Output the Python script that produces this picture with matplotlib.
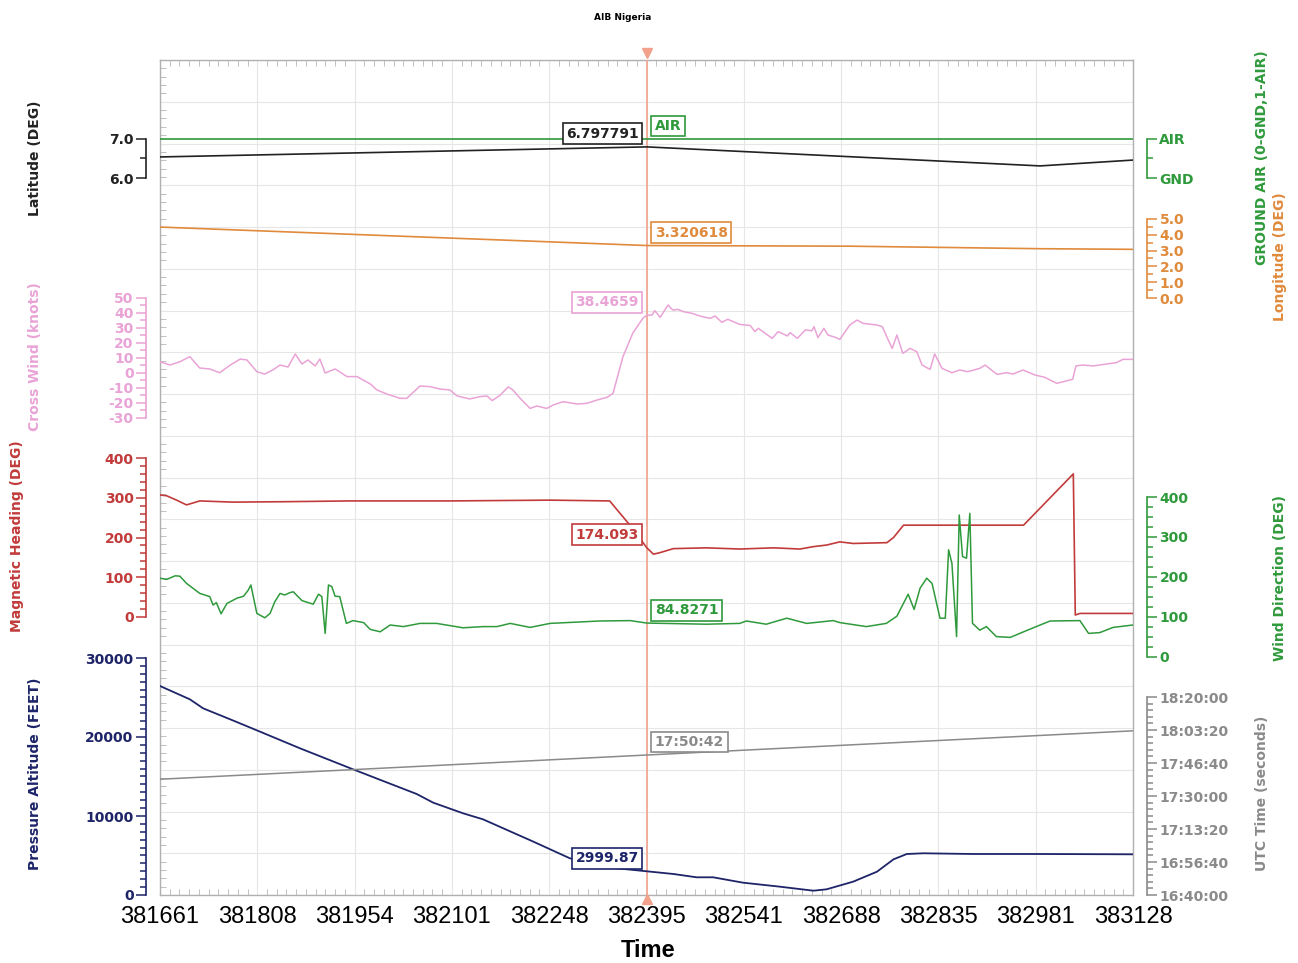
import numpy as np
import matplotlib
matplotlib.use('Agg')
import matplotlib.pyplot as plt
from matplotlib.ticker import FixedLocator, FixedFormatter, FuncFormatter, FormatStrFormatter
from matplotlib.transforms import offset_copy

plt.rcParams['font.family'] = 'DejaVu Sans'
plt.rcParams['font.weight'] = 'bold'
plt.rcParams['axes.unicode_minus'] = False

# ---------------- data ----------------
x_tick_labels = ['381661', '381808', '381954', '382101', '382248', '382395',
                 '382541', '382688', '382835', '382981', '383128']
t_start, t_end = 381661, 383128
cursor_t = 382395

ground_t = [381661, 383128]
ground_air = [1, 1]

lat_t = [381661, 382395, 382988, 383128]
lat_deg = [6.54, 6.797791, 6.31, 6.46]

lon_t = [381661, 382395, 382700, 382988, 383128]
lon_deg = [4.49, 3.320618, 3.28, 3.12, 3.08]

cw_t = [381661, 381676, 381691, 381706, 381721, 381736, 381751, 381767, 381782, 381792,
        381807, 381819, 381831, 381842, 381854, 381865, 381875, 381884, 381895, 381902,
        381910, 381925, 381943, 381958, 381978, 381988, 382003, 382023, 382033, 382053,
        382068, 382083, 382098, 382109, 382128, 382143, 382154, 382162, 382174, 382186,
        382193, 382204, 382219, 382229, 382244, 382254, 382269, 382290, 382305, 382320,
        382335, 382344, 382359, 382374, 382389, 382395, 382403, 382407, 382415, 382427,
        382434, 382442, 382450, 382463, 382475, 382490, 382498, 382508, 382517, 382535,
        382551, 382558, 382563, 382584, 382593, 382607, 382611, 382622, 382634, 382644,
        382647, 382653, 382662, 382668, 382679, 382686, 382701, 382712, 382721, 382742,
        382750, 382759, 382765, 382772, 382781, 382792, 382802, 382810, 382822, 382829,
        382840, 382855, 382867, 382879, 382897, 382905, 382923, 382938, 382947, 382962,
        382980, 382995, 383013, 383037, 383042, 383052, 383068, 383088, 383103, 383113,
        383128]
cw_kt = [7.5, 5.3, 7.5, 10.9, 3.3, 2.7, 0.2, 5.3, 9.3, 8.7,
         0.9, -0.7, 2.0, 5.3, 4.0, 12.7, 6.0, 8.7, 4.7, 9.3,
         0.0, 2.7, -2.4, -2.4, -7.3, -11.3, -14.0, -16.9, -16.9, -8.7,
         -9.1, -10.7, -11.3, -15.3, -17.3, -15.8, -15.3, -18.4, -14.7, -9.3,
         -11.3, -16.9, -23.6, -22.0, -23.6, -21.3, -19.1, -20.7, -20.2, -18.0,
         -16.2, -13.6, 10.9, 26.7, 36.5, 38.4659, 38.7, 41.6, 37.1, 45.3,
         42.0, 42.4, 40.9, 39.8, 38.0, 36.4, 38.0, 33.8, 35.8, 32.4,
         31.6, 27.6, 29.8, 23.1, 27.6, 24.7, 26.9, 23.1, 28.7, 28.2,
         30.9, 23.6, 29.8, 25.3, 23.8, 22.4, 32.0, 35.3, 33.1, 32.0,
         30.9, 22.0, 16.4, 25.3, 13.1, 16.4, 14.2, 5.3, 2.4, 12.7,
         3.1, 0.2, 2.0, 0.9, 3.1, 5.3, -0.9, 0.2, -0.7, 2.0,
         -1.3, -2.9, -6.9, -4.2, 4.7, 5.3, 4.7, 6.0, 6.9, 9.1,
         9.1]

hdg_t = [381661, 381671, 381686, 381701, 381721, 381771, 381846, 381947, 382098, 382249,
         382339, 382370, 382395, 382405, 382415, 382435, 382485, 382535, 382586, 382626,
         382646, 382666, 382686, 382706, 382757, 382767, 382782, 382837, 382963, 383038,
         383041, 383048, 383128]
hdg_deg = [307, 305, 294, 282, 292, 289, 290, 292, 292, 294,
           292, 230, 174.093, 158, 162, 172, 174, 171, 174, 171,
           177, 181, 189, 185, 187, 200, 231, 231, 231, 360,
           5, 9, 9]

wd_t = [381661, 381671, 381684, 381691, 381701, 381721, 381736, 381741, 381746, 381753,
        381762, 381777, 381787, 381794, 381798, 381807, 381819, 381827, 381834, 381842,
        381849, 381857, 381862, 381875, 381892, 381900, 381905, 381910, 381915, 381920,
        381925, 381932, 381942, 381952, 381968, 381978, 381993, 382008, 382028, 382053,
        382078, 382118, 382148, 382169, 382189, 382219, 382249, 382274, 382324, 382370,
        382395, 382485, 382535, 382545, 382575, 382606, 382636, 382676, 382686, 382726,
        382756, 382772, 382789, 382798, 382807, 382817, 382825, 382837, 382845, 382850,
        382855, 382862, 382866, 382871, 382877, 382882, 382886, 382897, 382907, 382922,
        382943, 382963, 382988, 383003, 383048, 383061, 383078, 383098, 383128]
wd_deg = [197, 194, 203, 202, 184, 159, 151, 130, 136, 108,
          134, 147, 152, 167, 180, 109, 98, 109, 138, 159,
          155, 161, 163, 141, 132, 157, 151, 59, 180, 176,
          152, 151, 84, 91, 86, 69, 63, 80, 76, 84,
          84, 73, 76, 76, 84, 74, 84, 86, 90, 91,
          84.8271, 82, 84, 90, 82, 97, 84, 91, 86, 76,
          84, 102, 157, 119, 172, 197, 184, 97, 97, 268,
          234, 51, 355, 251, 247, 359, 84, 67, 76, 51,
          49, 63, 80, 90, 91, 59, 61, 74, 80]

alt_t = [381661, 381706, 381726, 381772, 381812, 381872, 381952, 382048, 382073, 382118,
         382148, 382224, 382279, 382350, 382395, 382435, 382470, 382495, 382540, 382596,
         382646, 382666, 382706, 382742, 382767, 382787, 382812, 382887, 382988, 383128]
alt_ft = [26455, 24770, 23630, 22060, 20670, 18570, 15910, 12785, 11685, 10340,
          9580, 6750, 4645, 3380, 2999.87, 2660, 2240, 2240, 1560, 1050,
          545, 720, 1685, 2950, 4520, 5190, 5280, 5190, 5190, 5150]

utc_t = [381661, 382395, 383128]
utc_sec = [63508, 64242, 64975]

# ---------------- layout (figure pixels) ----------------
FIG_W, FIG_H = 1298, 963
PL, PR, PT, PB = 160, 1133, 60, 895
PH = PB - PT

BLACK = '#222222'
GREEN = '#2f9a3c'
ORANGE = '#e08a3c'
PINK = '#e9a3d6'
RED = '#c23b3b'
NAVY = '#1d2468'
GREY = '#8a8a8a'
CURSOR = '#f2a28c'

fig = plt.figure(figsize=(FIG_W / 100, FIG_H / 100), dpi=100)
ax = fig.add_axes([PL / FIG_W, 1 - PB / FIG_H, (PR - PL) / FIG_W, PH / FIG_H])
ax.set_xlim(t_start, t_end)
ax.set_ylim(0, 20)


def fmt_hms(v, pos=None):
    v = int(round(v))
    return f'{v // 3600:02d}:{v % 3600 // 60:02d}:{v % 60:02d}'


def make_axis(side, color, v_top, y_top, v_bot, y_bot, major, minor,
              fmt=None, labels=None):
    a = ax.twinx()
    a.patch.set_visible(False)
    for s in a.spines.values():
        s.set_visible(False)
    f_top = (PB - y_top) / PH
    f_bot = (PB - y_bot) / PH
    span = (v_top - v_bot) / (f_top - f_bot)
    lo = v_bot - f_bot * span
    a.set_ylim(lo, lo + span)
    sp = a.spines[side]
    sp.set_visible(True)
    sp.set_color(color)
    sp.set_linewidth(1.2)
    sp.set_position(('outward', 10))
    sp.set_bounds(v_bot, v_top)
    if side == 'left':
        a.yaxis.tick_left()
    else:
        a.yaxis.tick_right()
    eps = minor * 1e-3
    a.yaxis.set_major_locator(FixedLocator(np.arange(v_bot, v_top + eps, major)))
    a.yaxis.set_minor_locator(FixedLocator(np.arange(v_bot, v_top + eps, minor)))
    if labels is not None:
        a.yaxis.set_major_formatter(FixedFormatter(labels))
    elif fmt is not None:
        a.yaxis.set_major_formatter(fmt)
    a.tick_params(axis='y', which='both', colors=color, direction='out',
                  labelsize=10, width=1.1, pad=2)
    a.tick_params(axis='y', which='major', length=7)
    a.tick_params(axis='y', which='minor', length=4)
    return a


ax_gnd = make_axis('right', GREEN, 1, 139, 0, 178, 1, 0.5, labels=['GND', 'AIR'])
ax_lat = make_axis('left', BLACK, 7.0, 139, 6.0, 178, 1.0, 0.5, fmt=FormatStrFormatter('%.1f'))
ax_lon = make_axis('right', ORANGE, 5.0, 219, 0.0, 298, 1.0, 0.5, fmt=FormatStrFormatter('%.1f'))
ax_cw = make_axis('left', PINK, 50, 298, -30, 418, 10, 5, fmt=FormatStrFormatter('%d'))
ax_hdg = make_axis('left', RED, 400, 458, 0, 617, 100, 20, fmt=FormatStrFormatter('%d'))
ax_wd = make_axis('right', GREEN, 400, 497, 0, 657, 100, 25, fmt=FormatStrFormatter('%d'))
ax_alt = make_axis('left', NAVY, 30000, 658, 0, 895, 10000, 1000, fmt=FormatStrFormatter('%d'))
ax_utc = make_axis('right', GREY, 66000, 697, 60000, 895, 1000, 200, fmt=FuncFormatter(fmt_hms))

ax_gnd.plot(ground_t, ground_air, color=GREEN, lw=1.2)
ax_lat.plot(lat_t, lat_deg, color=BLACK, lw=1.2)
ax_lon.plot(lon_t, lon_deg, color=ORANGE, lw=1.2)
ax_cw.plot(cw_t, cw_kt, color=PINK, lw=1.1)
ax_hdg.plot(hdg_t, hdg_deg, color=RED, lw=1.2)
ax_wd.plot(wd_t, wd_deg, color=GREEN, lw=1.1)
ax_alt.plot(alt_t, alt_ft, color=NAVY, lw=1.3)
ax_utc.plot(utc_t, utc_sec, color=GREY, lw=1.1)

# main frame: grid, ticks
ax.set_xticks(np.linspace(t_start, t_end, len(x_tick_labels)))
ax.set_xticklabels(x_tick_labels, fontfamily='Liberation Sans', fontsize=17,
                   fontweight='normal', color='black')
ax.xaxis.set_minor_locator(FixedLocator(np.linspace(t_start, t_end, 101)))
ax.set_yticks(np.arange(0, 21, 1))
ax.yaxis.set_minor_locator(FixedLocator(np.linspace(0, 20, 101)))
ax.grid(which='major', color='#e6e6e6', lw=0.8)
ax.tick_params(axis='both', which='major', length=0, labelleft=False, labelright=False)
ax.tick_params(axis='x', which='major', pad=8)
ax.tick_params(which='minor', direction='in', length=4, color='#b5b5b5',
               top=True, bottom=True, left=True, right=True)
for s in ax.spines.values():
    s.set_color('#b0b0b0')
    s.set_linewidth(1.0)
ax.axvline(cursor_t, color=CURSOR, lw=1.2, zorder=3)

# overlay for cursor tags
top = ax.twinx()
top.axis('off')
tr_top = offset_copy(ax.get_xaxis_transform(), fig=fig, x=0, y=7, units='dots')
tr_bot = offset_copy(ax.get_xaxis_transform(), fig=fig, x=0, y=-4, units='dots')
top.plot([cursor_t], [1], marker='v', color=CURSOR, ms=7, transform=tr_top, clip_on=False)
top.plot([cursor_t], [0], marker='^', color=CURSOR, ms=7, transform=tr_bot, clip_on=False)


def tag(a, value, text, color, side):
    dx = -8 if side == 'left' else 8
    top.annotate(text, (cursor_t, value), xycoords=a.transData, xytext=(dx, 13),
                 textcoords='offset pixels', ha='right' if side == 'left' else 'left',
                 va='center', color=color, fontsize=10, fontweight='bold',
                 bbox=dict(boxstyle='square,pad=0.25', fc='white', ec=color, lw=1.2),
                 annotation_clip=False)


tag(ax_lat, lat_deg[1], '6.797791', BLACK, 'left')
tag(ax_gnd, 1, 'AIR', GREEN, 'right')
tag(ax_lon, lon_deg[1], '3.320618', ORANGE, 'right')
tag(ax_cw, 38.4659, '38.4659', PINK, 'left')
tag(ax_hdg, 174.093, '174.093', RED, 'left')
tag(ax_wd, 84.8271, '84.8271', GREEN, 'right')
tag(ax_alt, 2999.87, '2999.87', NAVY, 'left')
tag(ax_utc, 64242, fmt_hms(64242), GREY, 'right')

# axis titles
def side_label(x, y, text, color):
    fig.text(x / FIG_W, 1 - y / FIG_H, text, rotation=90, ha='center', va='center',
             color=color, fontsize=10, fontweight='bold')


side_label(35, 158, 'Latitude (DEG)', BLACK)
side_label(35, 357, 'Cross Wind (knots)', PINK)
side_label(17, 536, 'Magnetic Heading (DEG)', RED)
side_label(35, 774, 'Pressure Altitude (FEET)', NAVY)
side_label(1262, 158, 'GROUND AIR (0-GND,1-AIR)', GREEN)
side_label(1280, 257, 'Longitude (DEG)', ORANGE)
side_label(1280, 578, 'Wind Direction (DEG)', GREEN)
side_label(1262, 793, 'UTC Time (seconds)', GREY)

fig.text(648 / FIG_W, 1 - 950 / FIG_H, 'Time', ha='center', va='center',
         fontfamily='Liberation Sans', fontsize=17, fontweight='bold')
fig.text(623 / FIG_W, 1 - 17 / FIG_H, 'AIB Nigeria', ha='center', va='center',
         fontsize=6.5, fontweight='bold')

fig.savefig('out.png', dpi=100)
